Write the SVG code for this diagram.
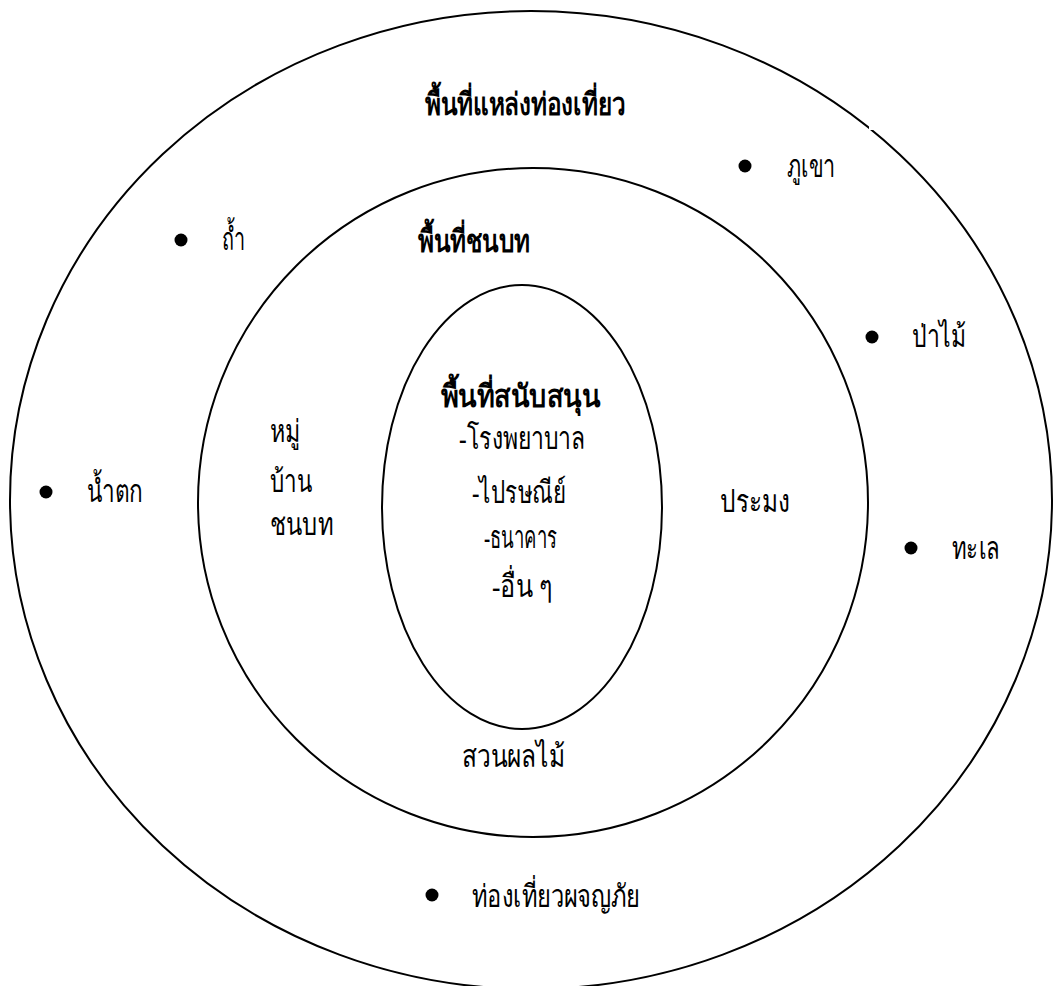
<svg xmlns="http://www.w3.org/2000/svg" width="1060" height="986" viewBox="0 0 1060 986">
<style>
.ring{fill:none;stroke:#000;stroke-width:2}
text{font-family:"Liberation Serif","Noto Sans",serif;font-size:31px;fill:#000}
.b{font-weight:bold}
.dot{fill:#000}
</style>
<rect width="1060" height="986" fill="#fff"/>
<g id="outer"><ellipse class="ring" cx="531" cy="500" rx="521" ry="489"/><rect x="869" y="124" width="5" height="6" fill="#fff"/></g>
<g id="middle"><ellipse class="ring" cx="533" cy="502.5" rx="335" ry="334.5"/></g>
<g id="inner"><ellipse class="ring" cx="522" cy="507" rx="140" ry="222"/></g>
<g id="connectors"/>
<g id="t-tour"><text class="b" x="425" y="115" textLength="200" lengthAdjust="spacingAndGlyphs">พื้นที่แหล่งท่องเที่ยว</text></g>
<g id="n-mountain"><circle class="dot" cx="745" cy="166" r="6.5"/><text x="787" y="177" textLength="48" lengthAdjust="spacingAndGlyphs">ภูเขา</text></g>
<g id="n-cave"><circle class="dot" cx="181" cy="240" r="6.5"/><text x="222" y="250" textLength="23" lengthAdjust="spacingAndGlyphs">ถ้ำ</text></g>
<g id="t-rural"><text class="b" x="418" y="252" textLength="112" lengthAdjust="spacingAndGlyphs">พื้นที่ชนบท</text></g>
<g id="n-forest"><circle class="dot" cx="872" cy="337" r="6.5"/><text x="912" y="347" textLength="54" lengthAdjust="spacingAndGlyphs">ป่าไม้</text></g>
<g id="t-support"><text class="b" x="441" y="407" textLength="159" lengthAdjust="spacingAndGlyphs">พื้นที่สนับสนุน</text></g>
<g id="t-village"><text x="270" y="442" textLength="30" lengthAdjust="spacingAndGlyphs">หมู่</text><text x="270" y="492" textLength="42" lengthAdjust="spacingAndGlyphs">บ้าน</text><text x="270" y="535" textLength="63" lengthAdjust="spacingAndGlyphs">ชนบท</text></g>
<g id="t-services"><text x="459" y="449" textLength="126" lengthAdjust="spacingAndGlyphs">-โรงพยาบาล</text><text x="472" y="503" textLength="94" lengthAdjust="spacingAndGlyphs">-ไปรษณีย์</text><text x="484" y="548" textLength="73" lengthAdjust="spacingAndGlyphs">-ธนาคาร</text><text x="492" y="597" textLength="61" lengthAdjust="spacingAndGlyphs">-อื่น ๆ</text></g>
<g id="n-waterfall"><circle class="dot" cx="46" cy="492" r="6.5"/><text x="87" y="502" textLength="56" lengthAdjust="spacingAndGlyphs">น้ำตก</text></g>
<g id="t-fishery"><text x="720" y="512" textLength="70" lengthAdjust="spacingAndGlyphs">ประมง</text></g>
<g id="n-sea"><circle class="dot" cx="911" cy="548" r="6.5"/><text x="952" y="559" textLength="48" lengthAdjust="spacingAndGlyphs">ทะเล</text></g>
<g id="t-orchard"><text x="462" y="767" textLength="103" lengthAdjust="spacingAndGlyphs">สวนผลไม้</text></g>
<g id="n-adventure"><circle class="dot" cx="432" cy="895" r="6.5"/><text x="472" y="907" textLength="168" lengthAdjust="spacingAndGlyphs">ท่องเที่ยวผจญภัย</text></g>
</svg>
